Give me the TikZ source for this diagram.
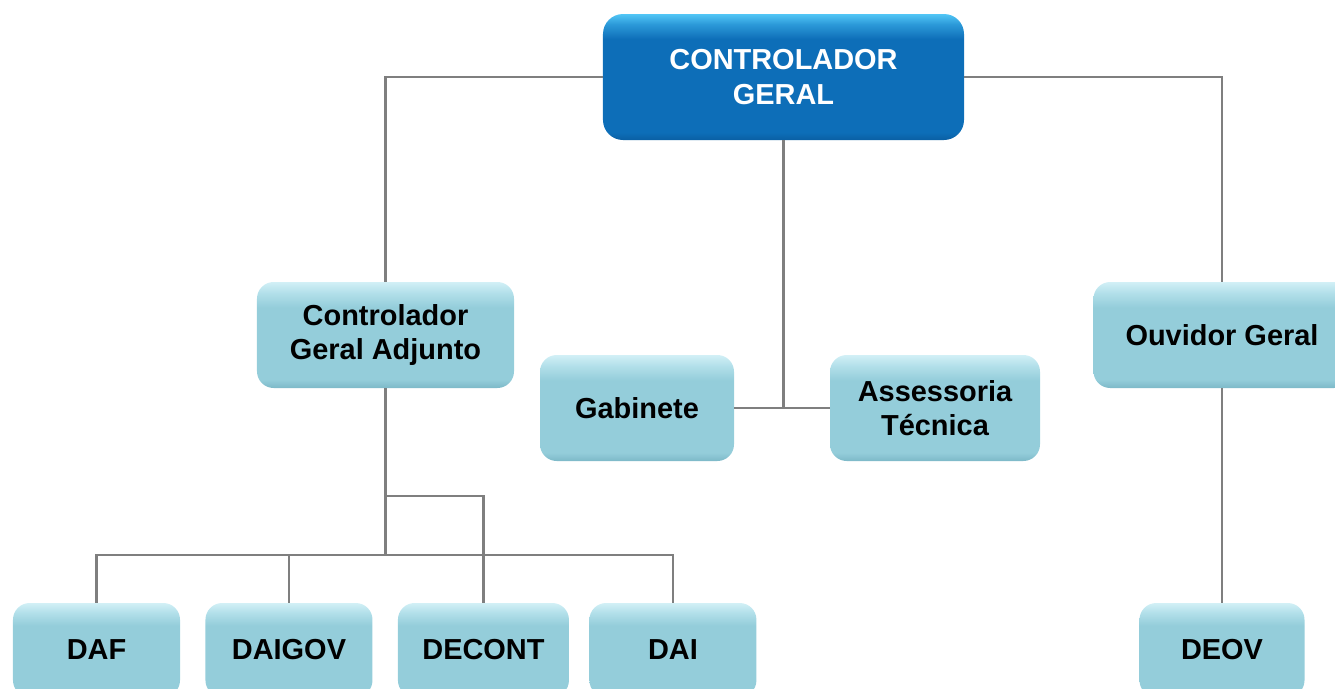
\documentclass[tikz,border=0pt]{standalone}
\usepackage{fontspec}
\setmainfont{Liberation Sans}
\usepackage{tikz}
\usetikzlibrary{positioning}
\definecolor{cgedge}{HTML}{0A5FA3}
\definecolor{cgface}{HTML}{0D6EB8}
\definecolor{cgmid}{HTML}{2C9AD9}
\definecolor{cglight}{HTML}{52C6F6}
\definecolor{unitedge}{HTML}{7DB9C8}
\definecolor{unitface}{HTML}{94CDDA}
\definecolor{unitmid}{HTML}{B3E0EA}
\definecolor{unitlight}{HTML}{D2F0F6}
\definecolor{linkgray}{HTML}{7F7F7F}
\pgfdeclareverticalshading{topbevel}{100bp}{color(0bp)=(cgedge); color(25bp)=(cgedge);
  color(28bp)=(cgface); color(65bp)=(cgface); color(71bp)=(cgmid); color(75bp)=(cglight); color(100bp)=(cglight)}
\pgfdeclareverticalshading{unitbevel}{100bp}{color(0bp)=(unitedge); color(25bp)=(unitedge);
  color(29bp)=(unitface); color(63bp)=(unitface); color(70bp)=(unitmid); color(75bp)=(unitlight); color(100bp)=(unitlight)}
\tikzstyle{topblock} = [rectangle, rounded corners=0.6cm, minimum width=10.83cm, minimum height=3.78cm,
  text centered, align=center, shade, shading=topbevel, text=white, font=\bfseries\fontsize{24.7}{30}\selectfont]
\tikzstyle{unitblock} = [rectangle, rounded corners=0.5cm, minimum width=7.71cm, minimum height=3.18cm,
  text centered, align=center, shade, shading=unitbevel, text=black, font=\bfseries\fontsize{24.7}{29}\selectfont]
\tikzstyle{link} = [linkgray, line width=1.8pt]
\begin{document}
\begin{tikzpicture}[x=0.03cm,y=-0.03cm] % one unit is one pixel of the chart
  \useasboundingbox (0,0) rectangle (1335,688);
  \clip (0,0) rectangle (1335,688);
  \node (cg) [topblock] at (783.5,77) {CONTROLADOR\\GERAL};
  \node (adj) [unitblock] at (385.5,335) {Controlador\\Geral Adjunto};
  \node (gab) [unitblock, minimum width=5.82cm] at (637,408) {Gabinete};
  \node (ass) [unitblock, minimum width=6.3cm] at (935,408) {Assessoria\\Técnica};
  \node (ouv) [unitblock] at (1222,335) {Ouvidor Geral};
  \node (daf) [unitblock, minimum width=5.01cm, minimum height=2.82cm] at (96.5,650) {DAF};
  \node (daigov) [unitblock, minimum width=5.01cm, minimum height=2.82cm, right=0.75cm of daf] {DAIGOV};
  \node (decont) [unitblock, minimum width=5.13cm, minimum height=2.82cm, right=0.75cm of daigov] {DECONT};
  \node (dai) [unitblock, minimum width=5.01cm, minimum height=2.82cm, right=0.6cm of decont] {DAI};
  \node (deov) [unitblock, minimum width=4.95cm, minimum height=2.82cm] at (1222,650) {DEOV};
  \coordinate (fork) at (385.5,496);
  \coordinate (bus) at (385.5,555);
  \draw [link] (cg.west) -| (adj.north);
  \draw [link] (cg.east) -| (ouv.north);
  \draw [link] (cg.south) |- (gab.east);
  \draw [link] (cg.south) |- (ass.west);
  \draw [link] (adj.south) -- (bus);
  \draw [link] (bus) -| (daf.north);
  \draw [link] (bus) -| (daigov.north);
  \draw [link] (bus) -| (dai.north);
  \draw [link] (fork) -| (decont.north);
  \draw [link] (ouv.south) -- (deov.north);
\end{tikzpicture}
\end{document}
